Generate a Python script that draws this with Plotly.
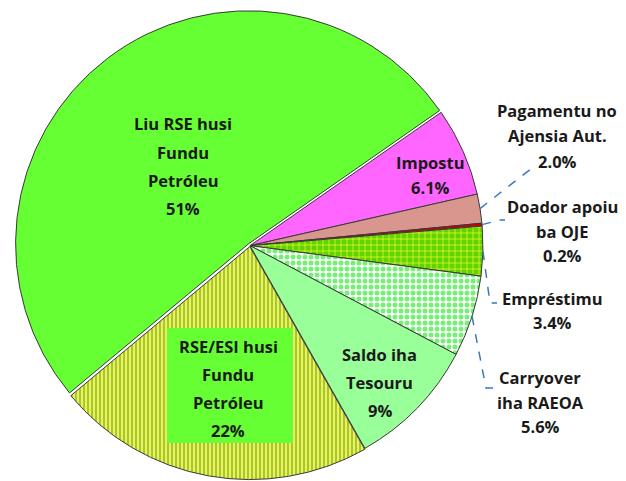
import math
import plotly.graph_objects as go

# ---------------- data ----------------
slice_names = [
    "Impostu",
    "Pagamentu no Ajensia Aut.",
    "Doador apoiu ba OJE",
    "Empréstimu",
    "Carryover iha RAEOA",
    "Saldo iha Tesouru",
    "RSE/ESI husi Fundu Petróleu",
    "Liu RSE husi Fundu Petróleu",
]
slice_values = [6.1, 2.0, 0.2, 3.4, 5.6, 9, 22, 51]
slice_pct_text = ["6.1%", "2.0%", "0.2%", "3.4%", "5.6%", "9%", "22%", "51%"]
name_lines = [
    ["Impostu"],
    ["Pagamentu no", "Ajensia Aut."],
    ["Doador apoiu", "ba OJE"],
    ["Empréstimu"],
    ["Carryover", "iha RAEOA"],
    ["Saldo iha", "Tesouru"],
    ["RSE/ESI husi", "Fundu", "Petróleu"],
    ["Liu RSE husi", "Fundu", "Petróleu"],
]

# ---------------- styles ----------------
OFF = 8                      # page body margin
W, H = 626 - OFF, 481 - OFF  # figure size that fits the window
fill_colors = ["#ff66ff", "#d9968f", "#cc0000", "#5fd400", "#ffffff", "#99ff99", "#a6c92a", "#66ff33"]
pattern_shapes = ["", "", "", "+", ".", "", "|", ""]
pattern_bg = ["#ff66ff", "#d9968f", "#cc0000", "#5fd400", "#ffffff", "#99ff99", "#a6c92a", "#66ff33"]
pattern_fg = ["#ff66ff", "#d9968f", "#cc0000", "#ffff33", "#77ee77", "#99ff99", "#f4f46a", "#66ff33"]
pattern_size = [8, 8, 8, 6, 6, 8, 4, 8]
pattern_solidity = [0.3, 0.3, 0.3, 0.2, 0.55, 0.3, 0.45, 0.3]
pulls = [0, 0, 0, 0, 0, 0, 0.004, 0.01]
rotation = 55.1

box_size = 470.7
dom_x = [0, 2 * (250 - OFF) / W]
dom_y = [0, box_size / H]

# label layout (window-pixel positions of each text line centre)
label_x = [430, 557, 562, 552, 540, 379.5, 228, 183]
label_y = [
    [162.5, 187.5],
    [111, 136, 162],
    [207, 232, 256],
    [298.5, 322.5],
    [378, 403, 427],
    [355, 383, 411],
    [347, 375, 403, 431],
    [124, 152.5, 181, 208.5],
]
# leader lines: slice index -> (elbow, end) in window pixels
leaders = {
    1: [(532, 168), (537, 168)],
    2: [(500, 220), (505, 220)],
    3: [(490, 303), (497, 303)],
    4: [(486, 388), (493, 388)],
}
font_family = "Open Sans"
font_size = 16.5
text_color = "#1a1a1a"
leader_color = "#3a78c0"


def px2paper(x, y):
    return (x - OFF) / W, 1 - (y - OFF) / H


fig = go.Figure(
    go.Pie(
        labels=slice_names,
        values=slice_values,
        sort=False,
        direction="clockwise",
        rotation=rotation,
        pull=pulls,
        textinfo="none",
        hoverinfo="label+percent",
        domain=dict(x=dom_x, y=dom_y),
        marker=dict(
            colors=fill_colors,
            line=dict(color="#3a3a3a", width=1),
            pattern=dict(
                shape=pattern_shapes,
                bgcolor=pattern_bg,
                fgcolor=pattern_fg,
                size=pattern_size,
                solidity=pattern_solidity,
                fillmode="replace",
            ),
        ),
        showlegend=False,
    )
)

# pie geometry in window pixels (for leader-line starting points)
box_w = (dom_x[1] - dom_x[0]) * W
box_h = (dom_y[1] - dom_y[0]) * H
cx = OFF + dom_x[0] * W + box_w / 2
cy = OFF + H - (dom_y[0] * H + box_h / 2)
radius = min(box_w, box_h) / (2 + 2 * max(pulls))
total = sum(slice_values)

shapes = []
cum = 0
for i, v in enumerate(slice_values):
    if i in leaders:
        theta = math.radians(rotation + 360 * (cum + v / 2) / total)
        sx = cx + radius * math.sin(theta)
        sy = cy - radius * math.cos(theta)
        pts = [(sx, sy)] + leaders[i]
        path = "M " + " L ".join("%.5f,%.5f" % px2paper(*p) for p in pts)
        shapes.append(dict(type="path", xref="paper", yref="paper", path=path,
                           line=dict(color=leader_color, width=1.5, dash="dash")))
    cum += v

# green background box behind the RSE/ESI label
bx0, by0 = px2paper(167, 328)
bx1, by1 = px2paper(293, 443)
shapes.append(dict(type="rect", xref="paper", yref="paper", x0=bx0, x1=bx1, y0=by1, y1=by0,
                   fillcolor="#66ff33", line=dict(width=0), layer="above"))

annotations = []
for i in range(len(slice_values)):
    lines = name_lines[i] + [slice_pct_text[i]]
    for line, ly in zip(lines, label_y[i]):
        ax, ay = px2paper(label_x[i], ly - 0.5)
        annotations.append(dict(x=ax, y=ay, xref="paper", yref="paper", text=line,
                                showarrow=False, xanchor="center", yanchor="middle",
                                font=dict(family=font_family, size=font_size, color=text_color,
                                          weight="bold")))

fig.update_layout(
    width=W, height=H,
    margin=dict(l=0, r=0, t=0, b=0),
    paper_bgcolor="white",
    plot_bgcolor="white",
    shapes=shapes,
    annotations=annotations,
)

fig.write_html("out.html")
